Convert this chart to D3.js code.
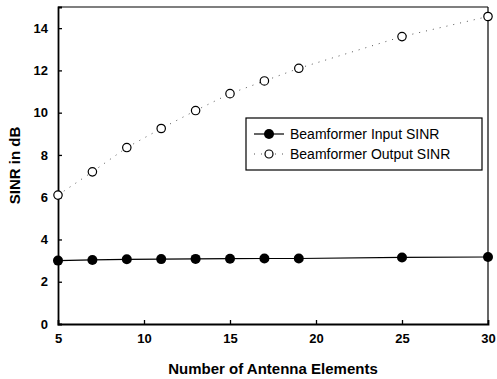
<!DOCTYPE html>
<html>
<head>
<meta charset="utf-8">
<script src="https://cdn.jsdelivr.net/npm/d3@7"></script>
<style>
  body { margin: 0; background: #fff; overflow: hidden; }
  svg { display: block; }
  text { font-family: Arial, "Liberation Sans", sans-serif; fill: #000; }
</style>
</head>
<body>
<svg></svg>
<script>
// data
const elements = [5, 7, 9, 11, 13, 15, 17, 19, 25, 30];
const inputSinr = [3.0, 3.03, 3.06, 3.07, 3.08, 3.09, 3.1, 3.1, 3.15, 3.17];
const outputSinr = [6.1, 7.2, 8.35, 9.25, 10.1, 10.9, 11.5, 12.1, 13.6, 14.55];
const xTicks = [5, 10, 15, 20, 25, 30];
const yTicks = [0, 2, 4, 6, 8, 10, 12, 14];

const width = 497;
const height = 379;
const margin = {top: 7, right: 9, bottom: 55, left: 58};
const innerWidth = width - margin.left - margin.right;
const innerHeight = height - margin.top - margin.bottom;

const svg = d3.select('svg')
    .attr('width', width)
    .attr('height', height);

const g = svg.append('g')
    .attr('transform', `translate(${margin.left}, ${margin.top})`);

const x = d3.scaleLinear().domain([5, 30]).range([0, innerWidth]);
const y = d3.scaleLinear().domain([0, 15]).range([innerHeight, 0]);

// frame: top/right thin, left/bottom heavier
g.append('line').attr('x1', 0).attr('x2', innerWidth).attr('y1', 0).attr('y2', 0)
    .attr('stroke', '#000').attr('stroke-width', 1.2);
g.append('line').attr('x1', innerWidth).attr('x2', innerWidth).attr('y1', 0).attr('y2', innerHeight)
    .attr('stroke', '#000').attr('stroke-width', 1.2);

const xAxis = d3.axisBottom(x).tickValues(xTicks).tickSize(-4).tickPadding(10).tickFormat(d3.format('d'));
const yAxis = d3.axisLeft(y).tickValues(yTicks).tickSize(-4).tickPadding(10).tickFormat(d3.format('d'));

const gx = g.append('g')
    .attr('transform', `translate(0, ${innerHeight})`)
    .call(xAxis);
const gy = g.append('g').call(yAxis);

[gx, gy].forEach(a => {
    a.select('.domain').attr('stroke', '#000').attr('stroke-width', 1.8);
    a.selectAll('.tick line').attr('stroke', '#000').attr('stroke-width', 1.3);
    a.selectAll('.tick text')
        .style('font-family', 'Arial, "Liberation Sans", sans-serif')
        .style('font-size', '13px')
        .style('font-weight', 'bold');
});
gx.selectAll('.tick').filter(d => d === 5 || d === 30).select('line').remove();
gy.selectAll('.tick').filter(d => d === 0).select('line').remove();

// input series: solid line + filled circles
const inData = elements.map((e, i) => [e, inputSinr[i]]);
const outData = elements.map((e, i) => [e, outputSinr[i]]);
const line = d3.line().x(d => x(d[0])).y(d => y(d[1]));

g.append('path').datum(inData)
    .attr('d', line)
    .attr('fill', 'none')
    .attr('stroke', '#000')
    .attr('stroke-width', 1.2);

g.append('path').datum(outData)
    .attr('d', line)
    .attr('fill', 'none')
    .attr('stroke', '#555')
    .attr('stroke-width', 1)
    .attr('stroke-dasharray', '1 6');

g.selectAll('circle.in').data(inData).enter()
    .append('circle')
    .attr('class', 'in')
    .attr('cx', d => x(d[0]))
    .attr('cy', d => y(d[1]))
    .attr('r', 5)
    .attr('fill', '#000');

g.selectAll('circle.out').data(outData).enter()
    .append('circle')
    .attr('class', 'out')
    .attr('cx', d => x(d[0]))
    .attr('cy', d => y(d[1]))
    .attr('r', 4.2)
    .attr('fill', '#fff')
    .attr('stroke', '#000')
    .attr('stroke-width', 1.2);

// legend
const legend = svg.append('g').attr('transform', 'translate(246, 118)');
legend.append('rect')
    .attr('width', 236).attr('height', 52)
    .attr('fill', '#fff').attr('stroke', '#000').attr('stroke-width', 1.2);
legend.append('line').attr('x1', 8).attr('x2', 38).attr('y1', 16).attr('y2', 16)
    .attr('stroke', '#000').attr('stroke-width', 1.2);
legend.append('circle').attr('cx', 23).attr('cy', 16).attr('r', 5).attr('fill', '#000');
legend.append('line').attr('x1', 8).attr('x2', 38).attr('y1', 36).attr('y2', 36)
    .attr('stroke', '#555').attr('stroke-dasharray', '1 6');
legend.append('circle').attr('cx', 23).attr('cy', 36).attr('r', 4)
    .attr('fill', '#fff').attr('stroke', '#000').attr('stroke-width', 1.2);
legend.append('text').attr('x', 44).attr('y', 21)
    .style('font-size', '14px').text('Beamformer Input SINR');
legend.append('text').attr('x', 44).attr('y', 41)
    .style('font-size', '14px').text('Beamformer Output SINR');

// axis titles
svg.append('text')
    .attr('x', margin.left + innerWidth / 2)
    .attr('y', 374)
    .attr('text-anchor', 'middle')
    .style('font-size', '15px')
    .style('font-weight', 'bold')
    .text('Number of Antenna Elements');

svg.append('text')
    .attr('transform', `translate(20, ${margin.top + innerHeight / 2}) rotate(-90)`)
    .attr('text-anchor', 'middle')
    .style('font-size', '15px')
    .style('font-weight', 'bold')
    .text('SINR in dB');
</script>
</body>
</html>
